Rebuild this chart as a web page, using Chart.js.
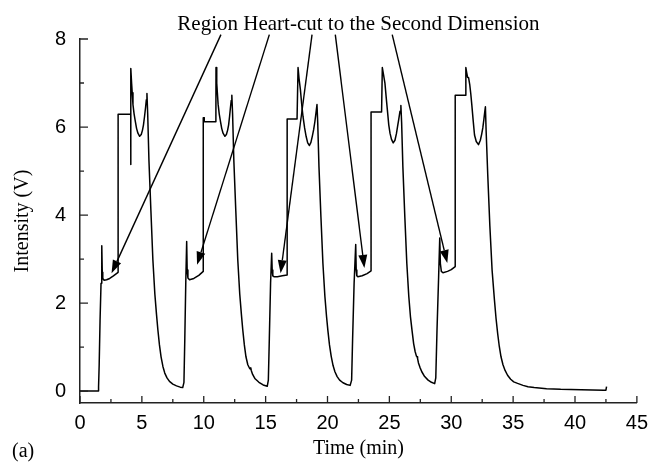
<!DOCTYPE html>
<html lang="en">
<head>
  <meta charset="UTF-8" />
  <title>Heart-cut chromatogram</title>
  <script src="https://cdn.jsdelivr.net/npm/chart.js"></script>
  <style>
    body { margin: 0; background: #fff; }
    #wrap { width: 656px; height: 465px; position: relative; }
  </style>
</head>
<body>
  <div id="wrap"><canvas id="trace"></canvas></div>

  <script>
    // time (min) and detector signal (V), one line per injection cycle
    const times = [
      0, 1.47, 1.50, 1.55, 1.62, 1.70, 1.76, 1.80, 1.84, 1.95, 2.15, 2.4, 2.7, 3.08, 3.08, 4.10, 4.10, 4.11,
      4.17, 4.22, 4.28, 4.37, 4.47, 4.57, 4.68, 4.82, 4.95, 5.05, 5.13, 5.22, 5.30, 5.36, 5.41,
      5.47, 5.57, 5.73, 5.89, 6.05, 6.18, 6.29, 6.42, 6.55, 6.70, 6.85, 7.03, 7.23, 7.5, 7.8, 8.1, 8.30,
      8.40, 8.47, 8.55, 8.62, 8.66, 8.72, 8.85,
      9.2, 9.6, 9.96, 9.96, 10.03, 10.04, 10.98, 10.99,
      11.05, 11.10, 11.16, 11.25, 11.35, 11.45, 11.56, 11.71, 11.83, 11.93, 12.01, 12.09, 12.16, 12.22, 12.27,
      12.33, 12.43, 12.59, 12.75, 12.91, 13.04, 13.15, 13.28, 13.41, 13.56, 13.70, 13.76, 13.80, 13.84, 13.95, 14.15, 14.46, 14.8, 15.13,
      15.22, 15.30, 15.40, 15.49, 15.53, 15.58, 15.67,
      15.95, 16.35, 16.74, 16.74, 17.54, 17.62,
      17.70, 17.81, 17.92, 18.02, 18.15, 18.27, 18.40, 18.54, 18.66, 18.78, 18.88, 18.98, 19.07, 19.15,
      19.21, 19.31, 19.47, 19.63, 19.79, 19.92, 20.03, 20.16, 20.30, 20.45, 20.60, 20.78, 20.98, 21.25, 21.55, 21.83,
      21.95, 22.03, 22.15, 22.28, 22.32, 22.37, 22.45,
      22.8, 23.2, 23.52, 23.52, 24.37, 24.43,
      24.52, 24.64, 24.75, 24.86, 24.95, 25.05, 25.17, 25.31, 25.45, 25.57, 25.66, 25.76, 25.86, 25.93,
      25.99, 26.09, 26.25, 26.41, 26.57, 26.70, 26.83, 26.96, 27.08, 27.18, 27.24, 27.28, 27.35, 27.47, 27.62, 27.85, 28.13, 28.4, 28.66,
      28.75, 28.85, 28.98, 29.07, 29.12, 29.20, 29.33,
      29.7, 30.0, 30.32, 30.32, 31.12, 31.18,
      31.24, 31.32, 31.40, 31.50, 31.58, 31.66, 31.77, 31.88, 32.02, 32.20, 32.35, 32.46, 32.55, 32.64, 32.71, 32.76,
      32.82, 32.95, 33.12, 33.30, 33.49, 33.62, 33.75, 33.88, 34.02, 34.18, 34.35, 34.55, 34.80, 35.05, 35.36, 35.8,
      36.2, 36.7, 37.7, 38.84, 40.5, 42.33, 42.50, 42.55
    ];
    const intensity = [
      0, 0, 0.1, 0.6, 1.6, 2.45, 3.30, 2.7, 2.56, 2.52, 2.53, 2.56, 2.62, 2.70, 6.29, 6.29, 5.15, 7.33,
      7.0, 6.78, 6.51, 6.3, 6.13, 5.97, 5.86, 5.79, 5.83, 5.93, 6.05, 6.25, 6.45, 6.62, 6.76,
      6.3, 5.25, 4.1, 2.98, 2.2, 1.75, 1.40, 1.05, 0.78, 0.56, 0.41, 0.30, 0.22, 0.16, 0.12, 0.09, 0.08,
      0.2, 1.2, 2.5, 3.40, 2.75, 2.57, 2.53,
      2.56, 2.63, 2.72, 6.21, 6.21, 6.12, 6.12, 7.35,
      7.0, 6.78, 6.52, 6.3, 6.13, 5.97, 5.86, 5.79, 5.83, 5.93, 6.05, 6.25, 6.45, 6.60, 6.72,
      6.3, 5.25, 4.1, 2.98, 2.2, 1.75, 1.40, 1.05, 0.78, 0.60, 0.52, 0.50, 0.53, 0.47, 0.38, 0.28, 0.20, 0.14, 0.11,
      0.25, 1.2, 2.45, 3.13, 2.75, 2.62, 2.60,
      2.60, 2.62, 2.64, 6.18, 6.18, 7.35,
      7.1, 6.85, 6.5, 6.24, 5.98, 5.79, 5.64, 5.58, 5.65, 5.80, 5.94, 6.12, 6.32, 6.51,
      6.1, 5.1, 3.95, 2.9, 2.15, 1.70, 1.38, 1.05, 0.79, 0.58, 0.44, 0.33, 0.25, 0.19, 0.15, 0.13,
      0.25, 1.2, 2.45, 3.33, 2.75, 2.62, 2.60,
      2.62, 2.67, 2.73, 6.34, 6.34, 7.35,
      7.2, 7.0, 6.65, 6.32, 6.05, 5.86, 5.72, 5.64, 5.70, 5.85, 6.01, 6.18, 6.36, 6.49,
      6.1, 5.1, 3.95, 2.9, 2.15, 1.70, 1.38, 1.08, 0.90, 0.80, 0.78, 0.74, 0.64, 0.54, 0.44, 0.33, 0.25, 0.20, 0.17,
      0.3, 1.4, 2.6, 3.48, 2.9, 2.72, 2.69,
      2.72, 2.76, 2.83, 6.72, 6.72, 7.35,
      7.25, 7.13, 7.12, 6.95, 6.75, 6.51, 6.15, 5.82, 5.67, 5.60, 5.70, 5.84, 5.98, 6.18, 6.35, 6.46,
      5.9, 4.91, 3.75, 2.75, 2.07, 1.65, 1.31, 1.02, 0.78, 0.60, 0.47, 0.36, 0.27, 0.21, 0.175, 0.13,
      0.10, 0.08, 0.055, 0.04, 0.03, 0.02, 0.02, 0.10
    ];

    const xMajor = [0, 5, 10, 15, 20, 25, 30, 35, 40, 45];
    const xMinor = [2.5, 7.5, 12.5, 17.5, 22.5, 27.5, 32.5, 37.5, 42.5];
    const yMajor = [0, 2, 4, 6, 8];
    const yMinor = [1, 3, 5, 7];

    // heart-cut arrows: from the caption down to each cut region
    const arrowFromX = [11.39, 15.30, 18.75, 20.63, 25.23];
    const arrowFromY = [8.1, 8.1, 8.1, 8.1, 8.1];
    const arrowToX = [2.55, 9.46, 16.21, 22.98, 29.68];
    const arrowToY = [2.68, 2.87, 2.68, 2.80, 2.91];

    const caption = 'Region Heart-cut to the Second Dimension';
    const panelTag = '(a)';

    const SANS = '"Liberation Sans", Arial, sans-serif';
    const SERIF = '"Liberation Serif", "Times New Roman", serif';

    const overlay = {
      id: 'overlay',
      afterDraw(chart) {
        const { ctx, chartArea } = chart;
        const sx = chart.scales.x, sy = chart.scales.y;
        ctx.save();
        ctx.strokeStyle = '#222';
        ctx.lineWidth = 1.3;

        // inward tick marks
        ctx.beginPath();
        xMajor.forEach(v => { const p = sx.getPixelForValue(v); ctx.moveTo(p, chartArea.bottom); ctx.lineTo(p, chartArea.bottom - 7); });
        xMinor.forEach(v => { const p = sx.getPixelForValue(v); ctx.moveTo(p, chartArea.bottom); ctx.lineTo(p, chartArea.bottom - 4); });
        yMajor.forEach(v => { const p = sy.getPixelForValue(v); ctx.moveTo(chartArea.left, p); ctx.lineTo(chartArea.left + 8, p); });
        yMinor.forEach(v => { const p = sy.getPixelForValue(v); ctx.moveTo(chartArea.left, p); ctx.lineTo(chartArea.left + 4, p); });
        ctx.stroke();

        // arrows
        ctx.strokeStyle = '#000';
        ctx.fillStyle = '#000';
        ctx.lineWidth = 1.4;
        arrowToX.forEach((tx, i) => {
          const x0 = sx.getPixelForValue(arrowFromX[i]), y0 = sy.getPixelForValue(arrowFromY[i]);
          const x1 = sx.getPixelForValue(tx), y1 = sy.getPixelForValue(arrowToY[i]);
          const a = Math.atan2(y1 - y0, x1 - x0);
          const len = 13, half = 4.5;
          const bx = x1 - len * Math.cos(a), by = y1 - len * Math.sin(a);
          ctx.beginPath();
          ctx.moveTo(x0, y0);
          ctx.lineTo(bx, by);
          ctx.stroke();
          ctx.beginPath();
          ctx.moveTo(x1, y1);
          ctx.lineTo(bx + half * Math.sin(a), by - half * Math.cos(a));
          ctx.lineTo(bx - half * Math.sin(a), by + half * Math.cos(a));
          ctx.closePath();
          ctx.fill();
        });

        // caption and panel tag
        ctx.font = '21px ' + SERIF;
        ctx.textAlign = 'center';
        ctx.textBaseline = 'alphabetic';
        ctx.fillText(caption, (chartArea.left + chartArea.right) / 2, 30);
        ctx.font = '20px ' + SERIF;
        ctx.textAlign = 'left';
        ctx.fillText(panelTag, 12, 457);
        ctx.restore();
      }
    };

    new Chart(document.getElementById('trace'), {
      type: 'line',
      data: {
        datasets: [{
          data: times.map((t, i) => ({ x: t, y: intensity[i] })),
          borderColor: '#000',
          borderWidth: 1.5,
          borderJoinStyle: 'round',
          pointRadius: 0,
          tension: 0,
          fill: false
        }]
      },
      options: {
        responsive: true,
        maintainAspectRatio: false,
        animation: false,
        layout: { padding: { top: 39, right: 16, left: 0, bottom: 0 } },
        plugins: { legend: { display: false }, tooltip: { enabled: false } },
        scales: {
          x: {
            type: 'linear',
            min: 0,
            max: 45,
            afterBuildTicks: s => { s.ticks = xMajor.map(v => ({ value: v })); },
            afterFit: s => { s.height = 62; },
            ticks: { color: '#000', font: { family: SANS, size: 20 }, padding: 8, maxRotation: 0 },
            grid: { display: true, drawOnChartArea: false, drawTicks: false },
            border: { display: true, color: '#222', width: 1.5 },
            title: { display: true, text: 'Time (min)', color: '#000', font: { family: SERIF, size: 20 }, padding: { top: 0, bottom: 4 } }
          },
          y: {
            min: -0.27,
            max: 8,
            afterBuildTicks: s => { s.ticks = yMajor.map(v => ({ value: v })); },
            afterFit: s => { s.width = 80; },
            ticks: { color: '#000', font: { family: SANS, size: 20 }, padding: 14 },
            grid: { display: true, drawOnChartArea: false, drawTicks: false },
            border: { display: true, color: '#222', width: 1.5 },
            title: { display: true, text: 'Intensity (V)', color: '#000', font: { family: SERIF, size: 20 }, padding: { top: 11, bottom: 0 } }
          }
        }
      },
      plugins: [overlay]
    });
  </script>
</body>
</html>
